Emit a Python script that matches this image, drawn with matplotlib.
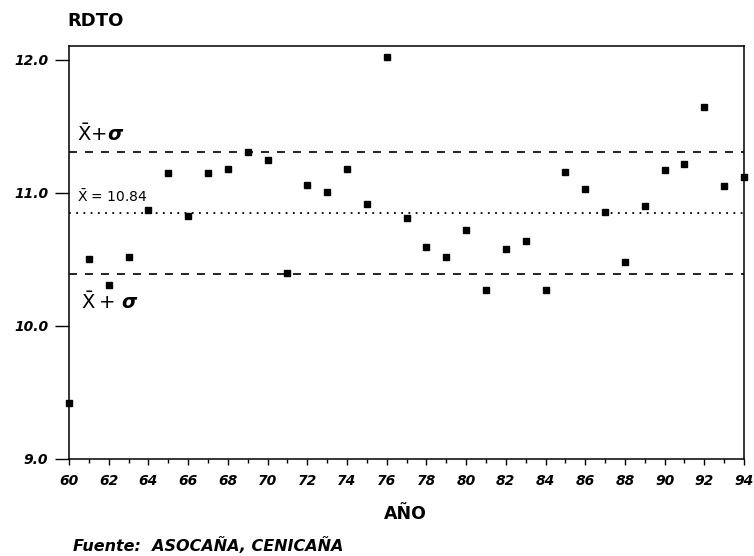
import matplotlib
matplotlib.use("Agg")
import matplotlib.pyplot as plt
import numpy as np

# rendimiento (RDTO) por año
anios = list(range(60, 95))
rdto = [9.42, 10.50, 10.31, 10.52, 10.87, 11.15, 10.83, 11.15, 11.18, 11.31,
        11.25, 10.40, 11.06, 11.01, 11.18, 10.92, 12.02, 10.81, 10.59, 10.52,
        10.72, 10.27, 10.58, 10.64, 10.27, 11.16, 11.03, 10.86, 10.48, 10.90,
        11.17, 11.22, 11.65, 11.05, 11.12]
media = 10.85
sigma = 0.46

plt.rcParams['mathtext.fontset'] = 'custom'
plt.rcParams['mathtext.rm'] = 'DejaVu Sans'
plt.rcParams['mathtext.it'] = 'DejaVu Sans:italic'
plt.rcParams['mathtext.bf'] = 'DejaVu Sans:bold:italic'

fig = plt.figure(figsize=(7.54, 5.56), dpi=100)
ax = fig.add_axes([0.0915, 0.1745, 0.8953, 0.7428])

ax.plot(anios, rdto, 's', color='black', markersize=4, clip_on=False, zorder=3)

ax.axhline(media + sigma, color='black', lw=1.2, linestyle=(0, (4.8, 4.8)))
ax.axhline(media, color='black', lw=1.3, linestyle=(0, (1, 3)))
ax.axhline(media - sigma, color='black', lw=1.2, linestyle=(0, (4.8, 4.8)))

ax.text(60.4, 11.44, r'$\bar{\mathrm{X}}\!+\!\mathbf{\sigma}$', fontsize=14, va='center', ha='left')
ax.text(60.4, 10.97, r'$\bar{\mathrm{X}}$ = 10.84', fontsize=10, va='center', ha='left')
ax.text(60.6, 10.18, r'$\bar{\mathrm{X}}+\,\mathbf{\sigma}$', fontsize=14, va='center', ha='left')

ax.set_xlim(60, 94)
ax.set_ylim(9.0, 12.105)
ax.set_xticks(range(60, 95, 2))
ax.set_xticks(range(60, 95), minor=True)
ax.set_yticks([9.0, 10.0, 11.0, 12.0])
ax.set_yticklabels(['9.0', '10.0', '11.0', '12.0'])

ax.tick_params(axis='x', which='major', direction='out', length=4, width=1, pad=7)
ax.tick_params(axis='x', which='minor', direction='out', length=3, width=1)
ax.tick_params(axis='y', direction='out', length=10, width=1, pad=5)
for lab in ax.get_xticklabels() + ax.get_yticklabels():
    lab.set_fontweight('bold')
    lab.set_fontstyle('italic')
    lab.set_fontsize(10)

for sp in ax.spines.values():
    sp.set_linewidth(1.1)

fig.text(0.090, 0.962, 'RDTO', fontsize=13, fontweight='bold', va='center', ha='left')
fig.text(0.538, 0.0755, 'AÑO', fontsize=12.5, fontweight='bold', va='center', ha='center')
fig.text(0.097, 0.018, 'Fuente:  ASOCAÑA, CENICAÑA', fontsize=11.5, fontweight='bold',
         fontstyle='italic', va='center', ha='left')

fig.savefig('out.png', dpi=100)
